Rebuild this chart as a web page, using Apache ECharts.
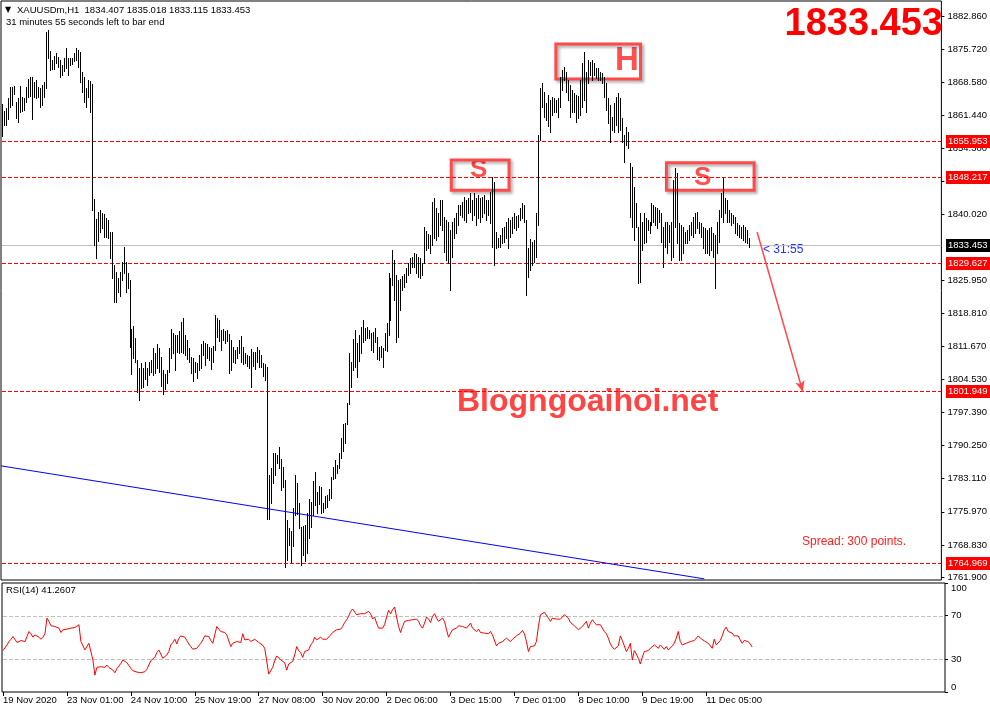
<!DOCTYPE html>
<html><head><meta charset="utf-8">
<script src="https://cdn.jsdelivr.net/npm/echarts@6/dist/echarts.min.js"></script>
<style>html,body{margin:0;padding:0;background:#fff}#c{width:990px;height:705px}</style>
</head><body><div id="c"></div>
<script>
// ---- data ----
const highs = [
1863.9,1862.4,1863.0,1865.2,1867.5,1867.5,1867.8,1864.3,1865.2,1867.8,
1865.4,1865.2,1867.5,1869.3,1869.7,1869.7,1868.6,1869.1,1867.5,1867.3,
1868.0,1868.6,1879.4,1879.8,1875.3,1873.4,1874.2,1874.9,1874.0,1873.4,
1872.3,1873.8,1876.0,1873.8,1873.8,1873.8,1874.9,1876.0,1875.5,1875.1,
1870.8,1869.7,1867.3,1869.1,1868.8,1868.2,1843.4,1839.1,1840.6,1841.0,
1840.4,1840.2,1839.3,1838.9,1836.3,1836.3,1829.2,1827.7,1826.4,1827.7,
1829.8,1833.1,1829.8,1827.5,1825.9,1815.4,1816.0,1813.4,1808.7,1807.0,
1808.0,1807.0,1808.3,1807.0,1808.3,1808.7,1811.3,1810.2,1812.1,1811.3,
1809.3,1806.5,1805.7,1806.5,1811.3,1815.4,1814.5,1814.1,1814.1,1814.9,
1816.9,1817.7,1814.1,1813.0,1811.3,1809.3,1809.1,1808.3,1808.0,1809.8,
1812.1,1812.8,1812.4,1812.1,1811.5,1811.3,1811.7,1818.4,1817.7,1817.3,
1815.2,1815.4,1814.9,1815.2,1814.3,1813.0,1811.5,1810.8,1811.5,1813.0,
1813.9,1811.5,1810.2,1809.8,
1809.6,1811.1,1810.4,1810.4,1811.5,1810.8,1809.8,1808.0,1807.8,1807.2,
1783.9,1785.4,1788.6,1788.6,1788.2,1789.9,1787.3,1785.6,1782.8,1774.2,
1772.5,1771.8,1776.8,1783.9,1782.2,1777.9,1772.7,1772.9,1773.1,1775.7,
1778.7,1778.1,1782.6,1784.5,1780.2,1781.5,1781.3,1777.9,1779.4,1779.6,
1780.9,1783.5,1785.6,1787.1,1786.1,1788.6,1791.9,1794.9,1795.1,1799.4,
1810.2,1808.3,1813.2,1815.2,1812.4,1814.1,1815.8,1817.3,1815.6,1815.8,
1815.2,1814.5,1814.7,1815.6,1813.7,1811.5,1811.7,1811.3,1814.5,1816.7,
1827.4,1826.4,1832.4,1830.3,1827.0,1825.9,1826.2,1826.8,1827.2,1828.5,
1829.6,1830.7,1830.9,1831.8,1831.5,1830.9,1830.7,1829.6,1837.4,1836.5,
1835.9,1835.6,1842.8,1843.6,1841.5,1840.4,1843.2,1843.2,1839.5,1838.9,
1838.4,1836.7,1838.4,1839.3,1840.4,1842.1,1842.1,1842.8,1843.8,1843.2,
1843.6,1844.7,1843.2,1844.7,1843.6,1844.3,1843.6,1843.8,1844.3,1843.2,
1843.2,1844.9,1848.2,1847.1,1836.3,1835.0,1835.6,1837.1,1837.4,1838.4,
1839.3,1838.9,1839.5,1840.4,1839.7,1839.9,1841.5,1842.5,1842.1,1838.9,
1832.8,1834.8,1834.1,1834.6,1840.4,1857.2,1867.3,1868.4,1866.5,1864.1,
1865.8,1864.7,1865.4,1865.2,1864.7,1865.2,1869.7,1871.2,1871.9,1870.8,
1869.1,1868.0,1866.9,1866.3,1865.8,1865.6,1869.1,1872.7,1875.1,1870.8,
1873.4,1872.9,1873.4,1872.7,1871.6,1871.6,1870.8,1870.6,1869.7,1868.4,
1865.2,1863.7,1861.1,1864.1,1865.4,1866.3,1865.2,1860.9,1857.2,1858.9,
1857.8,1851.2,1850.3,1846.0,1842.5,1837.4,1840.4,1838.4,1840.4,1839.3,
1838.9,1838.4,1842.5,1842.1,1841.7,1841.5,1841.0,1840.4,1837.4,1838.4,
1838.4,1837.8,1838.4,1847.5,1850.1,1849.0,1838.2,1837.8,1837.4,1836.3,
1836.7,1837.8,1838.4,1839.5,1840.4,1840.6,1838.4,1838.2,1837.4,1837.2,
1836.7,1837.2,1837.4,1836.1,1835.6,1838.4,1841.0,1844.7,1847.9,1843.6,
1843.2,1841.0,1840.4,1839.9,1839.5,1838.2,1837.8,1837.4,1837.8,1837.4,
1836.7,1835.0
];
const lows = [
1857.0,1859.3,1859.3,1860.6,1863.2,1863.7,1866.0,1860.9,1860.0,1862.2,
1862.4,1862.6,1864.3,1865.4,1865.6,1860.6,1865.4,1865.2,1865.4,1863.2,
1863.7,1865.4,1867.3,1873.8,1871.2,1871.4,1871.4,1872.7,1871.9,1869.7,
1870.1,1871.0,1871.6,1870.1,1872.3,1872.5,1873.2,1873.4,1871.9,1868.6,
1866.5,1864.3,1863.2,1865.4,1862.2,1841.0,1833.5,1830.7,1834.4,1836.3,
1837.2,1835.2,1835.2,1835.0,1830.7,1826.4,1821.2,1821.2,1823.3,1822.5,
1825.9,1827.5,1823.3,1824.2,1811.5,1805.7,1809.1,1808.3,1801.8,1800.1,
1802.7,1802.9,1804.6,1803.3,1805.5,1806.1,1805.5,1805.9,1807.0,1806.1,
1803.1,1801.3,1802.4,1803.7,1806.1,1809.1,1810.2,1806.5,1810.4,1810.2,
1810.4,1810.2,1809.8,1808.9,1808.3,1805.9,1804.2,1806.1,1804.8,1806.5,
1807.0,1809.8,1807.6,1809.1,1808.7,1806.7,1808.3,1810.8,1813.6,1812.8,
1810.8,1813.0,1812.4,1812.8,1805.9,1806.5,1808.3,1808.0,1809.1,1810.2,
1808.3,1807.8,1808.0,1807.4,
1807.0,1802.9,1807.4,1806.7,1808.3,1807.2,1807.2,1805.2,1804.4,1774.4,
1774.4,1777.9,1782.2,1783.9,1786.5,1785.4,1780.7,1781.3,1764.1,1765.6,
1768.8,1765.1,1768.6,1775.3,1775.5,1772.5,1764.5,1766.7,1765.4,1767.1,
1770.3,1772.7,1775.3,1777.4,1775.7,1777.6,1775.7,1775.9,1776.8,1777.0,
1778.5,1779.0,1783.0,1783.2,1784.3,1785.4,1787.6,1789.1,1790.8,1794.9,
1799.2,1802.9,1806.5,1807.2,1805.0,1808.5,1810.2,1812.6,1813.0,1813.4,
1813.4,1810.8,1810.4,1812.6,1808.9,1808.7,1809.3,1807.2,1810.8,1810.6,
1814.1,1817.3,1824.9,1821.6,1812.6,1813.7,1819.5,1823.8,1824.4,1825.5,
1827.0,1827.5,1828.7,1828.7,1827.5,1826.6,1826.4,1827.0,1829.6,1832.4,
1832.8,1831.8,1833.5,1835.0,1834.6,1835.4,1837.8,1836.7,1832.0,1830.2,
1829.6,1823.8,1830.9,1835.0,1836.1,1837.8,1839.9,1839.5,1838.9,1838.4,
1840.4,1840.6,1838.9,1839.9,1837.8,1839.3,1838.4,1839.5,1840.4,1838.9,
1839.9,1838.2,1833.1,1829.2,1832.8,1833.1,1833.1,1833.9,1834.1,1835.0,
1832.8,1835.2,1836.1,1837.2,1836.7,1837.4,1838.9,1839.3,1838.4,1822.7,
1826.6,1828.1,1829.2,1829.8,1830.9,1837.8,1856.1,1863.2,1861.1,1860.4,
1859.2,1857.8,1861.5,1862.2,1862.2,1861.1,1863.2,1866.9,1869.1,1866.5,
1864.7,1861.1,1862.2,1862.2,1860.0,1860.9,1861.5,1863.2,1864.7,1862.2,
1868.4,1870.1,1869.1,1870.1,1869.5,1869.1,1869.1,1868.4,1865.4,1862.6,
1859.8,1855.7,1858.3,1857.8,1859.4,1857.8,1858.3,1855.7,1851.4,1855.0,
1854.4,1839.5,1837.4,1834.6,1837.4,1825.3,1825.5,1832.4,1833.9,1834.1,
1836.7,1836.1,1837.8,1838.4,1837.8,1837.1,1838.4,1834.1,1828.7,1833.1,
1831.8,1834.1,1830.2,1830.9,1837.4,1833.9,1830.2,1830.2,1831.8,1833.9,
1833.9,1834.6,1835.6,1835.2,1836.1,1837.2,1836.1,1835.2,1832.8,1831.8,
1831.8,1831.3,1832.4,1830.9,1824.2,1831.8,1834.1,1839.5,1838.4,1840.4,
1838.4,1838.4,1837.8,1838.2,1836.1,1835.6,1835.2,1835.0,1834.6,1834.1,
1833.9,1833.1
];
const rsi = [
38.0,38.3,43.2,46.3,48.4,50.9,49.4,45.4,44.7,47.2,
47.8,46.3,50.9,55.5,53.4,50.3,52.4,54.0,50.3,48.4,
50.3,53.4,67.8,64.8,60.8,61.7,60.1,60.8,58.6,54.6,
57.1,58.6,57.7,58.6,58.6,59.2,59.2,60.1,61.7,46.3,
44.7,38.6,37.1,44.7,45.7,29.4,15.5,22.6,23.8,23.2,
23.2,22.6,24.7,22.6,22.6,20.1,17.7,21.4,23.8,26.3,
29.4,30.0,26.9,25.7,21.7,19.5,19.2,18.3,17.0,17.7,
17.0,18.6,20.7,22.0,28.7,30.0,31.8,36.1,38.6,37.1,
30.9,32.4,34.0,37.1,43.2,45.4,48.4,44.1,49.1,51.5,
51.5,50.3,47.2,44.1,41.7,39.2,40.1,40.1,41.7,44.7,
47.8,51.5,51.5,50.9,47.2,44.7,52.4,60.1,58.6,55.5,
57.1,54.6,52.4,54.0,41.7,44.7,43.2,46.3,47.8,45.4,
53.4,47.8,46.3,48.4,46.3,46.3,48.4,47.2,45.4,44.7,
42.9,40.1,38.6,16.4,17.7,22.6,28.7,33.1,31.8,29.4,
28.7,26.9,20.1,25.7,26.9,28.1,34.0,41.7,38.0,36.1,
31.8,37.1,36.1,38.6,43.2,45.4,50.3,47.8,46.3,50.3,
48.4,47.2,48.4,49.4,52.4,54.6,54.0,57.1,55.5,57.7,
60.1,63.8,66.3,69.4,74.0,76.1,75.5,70.9,72.4,71.8,
73.1,71.8,73.1,74.0,71.8,66.9,68.8,63.2,58.6,60.1,
58.6,61.7,68.8,74.9,71.8,75.5,78.0,68.8,60.1,54.6,
60.1,64.8,63.8,65.7,64.8,66.3,64.8,66.9,64.8,60.8,
58.6,63.2,68.8,66.9,63.8,69.4,71.8,67.8,64.8,66.3,
67.8,64.8,57.1,50.3,54.0,57.1,57.7,58.6,60.8,62.6,
60.1,60.8,58.6,60.1,63.2,58.6,60.1,55.5,57.7,54.6,
55.5,54.0,54.6,53.4,55.5,52.4,54.0,42.3,44.7,
44.7,46.3,47.8,49.4,50.9,46.3,48.4,49.4,51.5,52.4,
54.0,56.5,53.4,46.3,37.1,41.7,43.2,42.3,46.3,60.1,
70.9,72.4,73.1,71.8,67.8,64.8,67.8,66.3,66.9,66.3,
66.9,68.8,70.9,71.8,67.8,63.8,62.3,60.8,60.1,57.1,
55.5,60.1,60.1,64.8,58.6,63.2,66.3,63.8,61.7,61.7,
61.7,58.6,55.5,53.4,49.4,44.1,41.1,39.2,40.1,42.3,
51.5,47.2,42.3,37.1,40.1,44.7,29.4,38.0,34.9,30.9,
25.7,31.8,37.1,38.6,38.0,40.1,41.7,43.2,42.9,40.1,
43.2,41.7,39.2,41.7,38.6,38.0,42.3,44.7,49.4,55.5,
46.3,43.2,41.7,44.7,46.0,46.3,46.3,47.2,48.4,51.5,
49.4,47.8,46.9,46.3,44.7,43.2,40.1,48.4,43.2,44.1,
47.2,51.5,57.1,59.5,55.5,55.5,54.0,51.5,50.9,51.5,
47.8,44.7,47.2,47.8,46.3,44.1,41.26
];
const timeTickIndex = [0,32,64,96,128,160,192,224,256,288,320,352];
const timeTickLabels = ['19 Nov 2020','23 Nov 01:00','24 Nov 10:00','25 Nov 19:00','27 Nov 08:00','30 Nov 20:00','2 Dec 06:00','3 Dec 15:00','7 Dec 01:00','8 Dec 10:00','9 Dec 19:00','11 Dec 05:00'];
const priceTicks = [1882.860,1875.720,1868.580,1861.440,1854.300,1847.160,1840.020,1825.950,1818.810,1811.670,1804.530,1797.390,1790.250,1783.110,1775.970,1768.830,1761.900];
const rsiTicks = [0,30,70,100];
const rsiLevels = [70,30];
const levels = [1855.953,1848.217,1829.627,1801.949,1764.969];
const bidPrice = 1833.453;
const trendLine = [[-0.5,1785.87],[352.5,1761.5]];
const arrowLine = [[379,1836.3],[402,1801.8]];
const boxes = [
  {from:[225.5,1851.8], to:[254.5,1845.3]},
  {from:[278,1876.8], to:[320.5,1869.3]},
  {from:[333.5,1851.2], to:[377.5,1845.3]}
];
const nSlots = 472;

// ---- chart ----
const FONT = 'Tahoma, "Liberation Sans", Arial, sans-serif';
const FS = 9.5;
const chart = echarts.init(document.getElementById('c'), null, {renderer:'canvas'});
const tickMap = {};
timeTickIndex.forEach((v,k)=>{tickMap[v]=timeTickLabels[k];});
const shadow = {shadowColor:'rgba(0,0,0,0.35)', shadowBlur:3, shadowOffsetX:2, shadowOffsetY:2};

// crisp horizontal level lines across the whole plot, drawn via the axis scale
function hLineSeries(values, xi, yi, color, dash, z){
  return {
    type:'custom', xAxisIndex:xi, yAxisIndex:yi, silent:true, z:z,
    data: values.map(v=>[0, v]), encode:{x:0, y:1},
    renderItem:function(params, api){
      const cs = params.coordSys;
      const y = Math.round(api.coord([0, api.value(1)])[1]) + 0.5;
      return {type:'line', shape:{x1:cs.x+1, y1:y, x2:cs.x+cs.width, y2:y},
        style:{stroke:color, lineWidth:1, lineDash:dash}};
    }
  };
}

chart.setOption({
  animation:false,
  backgroundColor:'#ffffff',
  grid:[
    {left:1, top:1, width:944, height:579, show:true, borderColor:'#000', borderWidth:1, backgroundColor:'#fff'},
    {left:1, top:583, width:944, height:109, show:true, borderColor:'#000', borderWidth:1, backgroundColor:'#fff'}
  ],
  xAxis:[
    {type:'value', gridIndex:0, min:-0.5, max:nSlots-0.5, show:false},
    {type:'value', gridIndex:1, min:-0.5, max:nSlots-0.5,
     axisLine:{show:false, onZero:false}, splitLine:{show:false},
     axisTick:{show:true, length:4, customValues:timeTickIndex, lineStyle:{color:'#000'}},
     axisLabel:{show:true, customValues:timeTickIndex, formatter:v=>tickMap[v]||'', align:'left', margin:3,
       color:'#000', fontFamily:FONT, fontSize:FS}}
  ],
  yAxis:[
    {type:'value', gridIndex:0, position:'right', min:1761.26, max:1886.09,
     axisLine:{show:false, onZero:false}, splitLine:{show:false},
     axisTick:{show:true, length:3, customValues:priceTicks, lineStyle:{color:'#000'}},
     axisLabel:{show:true, customValues:priceTicks, formatter:v=>v.toFixed(3), margin:6, color:'#000', fontFamily:FONT, fontSize:FS}},
    {type:'value', gridIndex:1, position:'right', min:0, max:100,
     axisLine:{show:false, onZero:false}, splitLine:{show:false},
     axisTick:{show:true, length:3, customValues:rsiTicks, lineStyle:{color:'#000'}},
     axisLabel:{show:true, customValues:rsiTicks, margin:6, color:'#000', fontFamily:FONT, fontSize:FS,
       verticalAlignMinLabel:'bottom', verticalAlignMaxLabel:'top'}}
  ],
  series:[
    hLineSeries([bidPrice], 0, 0, '#c0c0c0', null, 1),
    hLineSeries(levels, 0, 0, '#ff0000', [4,2], 1),
    {
      type:'custom', xAxisIndex:0, yAxisIndex:0, silent:true, z:2,
      data: highs.map((h,i)=>[i,h,lows[i]]),
      encode:{x:0, y:[1,2]},
      renderItem:function(params, api){
        const i = api.value(0);
        const hi = api.coord([i, api.value(1)]);
        const lo = api.coord([i, api.value(2)]);
        const x = Math.round(hi[0]) + 0.5;
        return {type:'line', shape:{x1:x, y1:Math.round(hi[1]), x2:x, y2:Math.round(lo[1])+1},
          style:{stroke:'#000', lineWidth:1}};
      }
    },
    {
      type:'line', xAxisIndex:0, yAxisIndex:0, silent:true, z:3,
      data: trendLine, showSymbol:false, symbol:'none',
      lineStyle:{color:'#0000ff', width:1}
    },
    {
      type:'line', xAxisIndex:0, yAxisIndex:0, silent:true, clip:false, z:4,
      data:[], showSymbol:false, symbol:'none',
      markLine:{silent:true, symbol:['none','arrow'], symbolSize:[7,11], label:{show:false},
        lineStyle:{color:'#ff4a4a', type:'solid', width:1.5},
        data:[[{coord:arrowLine[0]},{coord:arrowLine[1]}]]},
      markArea:{silent:true,
        itemStyle:Object.assign({color:'rgba(0,0,0,0)', borderColor:'#ff4a4a', borderWidth:3}, shadow),
        data: boxes.map(b=>[{coord:b.from},{coord:b.to}])}
    },
    hLineSeries(rsiLevels, 1, 1, '#c0c0c0', [4,2], 1),
    {
      type:'line', xAxisIndex:1, yAxisIndex:1, silent:true, z:3,
      data: rsi.map((v,i)=>[i,v]), showSymbol:false, symbol:'none',
      lineStyle:{color:'#ff0000', width:1}
    }
  ]
});

// price tags on the right scale, placed through the y axis conversion
const tagGraphics = [];
const tagList = levels.map(v=>({v, bg:'#ff0000'})).concat([{v:bidPrice, bg:'#000000'}]);
tagList.forEach(t=>{
  const y = Math.round(chart.convertToPixel({yAxisIndex:0}, t.v));
  tagGraphics.push({type:'rect', shape:{x:946, y:y-6, width:44, height:13}, style:{fill:t.bg}, z:100});
  tagGraphics.push({type:'text', x:948, y:y+0.5, z:101,
    style:{text:t.v.toFixed(3), fill:'#ffffff', font:FS+'px '+FONT, textVerticalAlign:'middle'}});
});

chart.setOption({
  graphic: tagGraphics.concat([
    {type:'text', left:5, top:6, style:{text:'\u25BC', fill:'#000', font:'8px "DejaVu Sans"'}},
    {type:'text', left:17, top:5, style:{text:'XAUUSDm,H1  1834.407 1835.018 1833.115 1833.453', fill:'#000', font:FS+'px '+FONT}},
    {type:'text', left:6, top:17, style:{text:'31 minutes 55 seconds left to bar end', fill:'#000', font:FS+'px '+FONT}},
    {type:'text', right:47, top:6, style:{text:'1833.453', fill:'#ff0000', font:'bold 38px "Liberation Sans", Arial, sans-serif'}},
    {type:'text', left:457, top:386, style:Object.assign({text:'Blogngoaihoi.net', fill:'#ff4444', font:'bold 32px "Liberation Sans", Arial, sans-serif'}, {shadowColor:'rgba(0,0,0,0.35)', shadowBlur:3, shadowOffsetX:2, shadowOffsetY:3})},
    {type:'text', left:470, top:157, style:Object.assign({text:'S', fill:'#ff5050', font:'bold 26px "Liberation Sans", Arial, sans-serif'}, shadow)},
    {type:'text', left:615, top:44, style:Object.assign({text:'H', fill:'#ff5050', font:'bold 33px "Liberation Sans", Arial, sans-serif'}, shadow)},
    {type:'text', left:694, top:165, style:Object.assign({text:'S', fill:'#ff5050', font:'bold 26px "Liberation Sans", Arial, sans-serif'}, shadow)},
    {type:'text', left:763, top:244, style:{text:'< 31:55', fill:'#2030ff', font:'12px '+FONT}},
    {type:'text', left:802, top:536, style:{text:'Spread: 300 points.', fill:'#ff2020', font:'12px "Liberation Sans", Arial, sans-serif'}},
    {type:'text', left:6, top:585, style:{text:'RSI(14) 41.2607', fill:'#000', font:FS+'px '+FONT}}
  ])
});
</script>
</body></html>
